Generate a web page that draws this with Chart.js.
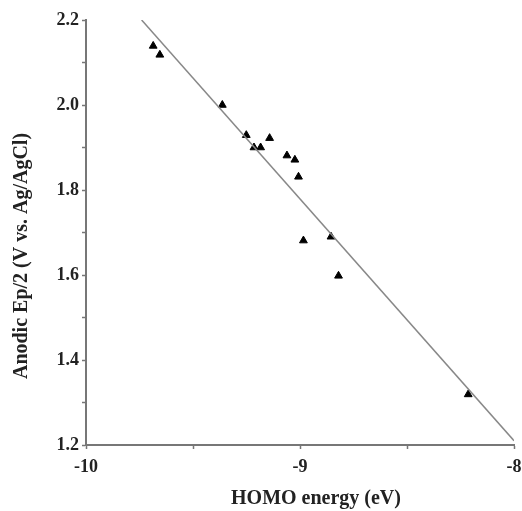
<!DOCTYPE html>
<html>
<head>
<meta charset="utf-8">
<script src="https://cdn.jsdelivr.net/npm/chart.js@4/dist/chart.umd.min.js"></script>
<style>
  html, body { margin: 0; padding: 0; background: #fff; }
  #chart { display: block; }
</style>
</head>
<body>
<canvas id="chart" width="522" height="511"></canvas>
<script>
var homoEnergy = [-9.686, -9.655, -9.363, -9.251, -9.215, -9.184, -9.142, -9.061, -9.024, -9.007, -8.984, -8.855, -8.820, -8.214];
var anodicEp2  = [2.139, 2.118, 2.000, 1.929, 1.900, 1.900, 1.922, 1.881, 1.871, 1.831, 1.681, 1.690, 1.598, 1.319];

// fitted trend line end points
var fitX = [-9.74, -8.0];
var fitY = [2.20, 1.21];

var xTitle = "HOMO energy (eV)";
var yTitle = "Anodic Ep/2 (V vs. Ag/AgCl)";

var axisGray = "#777";
var textColor = "#222";
var serif = "'Liberation Serif', 'DejaVu Serif', serif";

// draws axis titles where the original has them
var titlesPlugin = {
  id: 'titles',
  afterDraw: function(chart) {
    var ctx = chart.ctx;
    ctx.save();
    ctx.fillStyle = textColor;
    ctx.font = "bold 20px " + serif;
    ctx.textAlign = "center";
    ctx.textBaseline = "middle";
    ctx.fillText(xTitle, 316, 499);
    ctx.translate(22, 256);
    ctx.rotate(-Math.PI / 2);
    ctx.fillText(yTitle, 0, 0);
    ctx.restore();
  }
};

function pts(xs, ys) {
  return xs.map(function(x, i) { return { x: x, y: ys[i] }; });
}

new Chart(document.getElementById("chart"), {
  type: 'scatter',
  data: {
    datasets: [{
      label: "fit",
      type: 'line',
      data: pts(fitX, fitY),
      borderColor: "#888",
      borderWidth: 1.5,
      pointRadius: 0,
      fill: false
    }, {
      label: "compounds",
      data: pts(homoEnergy, anodicEp2),
      pointStyle: 'triangle',
      pointRadius: 4.5,
      backgroundColor: "#000",
      borderColor: "#000",
      borderWidth: 1
    }]
  },
  options: {
    responsive: false,
    animation: false,
    layout: { padding: { top: 20, right: 8, left: 0, bottom: 0 } },
    plugins: {
      legend: { display: false },
      tooltip: { enabled: false }
    },
    scales: {
      x: {
        type: 'linear',
        min: -10, max: -8,
        border: { color: axisGray, width: 2 },
        grid: { drawOnChartArea: false, drawTicks: true, tickLength: 4, tickColor: axisGray, tickWidth: 1.5 },
        ticks: {
          stepSize: 0.5,
          padding: 8,
          color: textColor,
          font: { family: serif, size: 18, weight: 'bold' },
          maxRotation: 0,
          autoSkip: false,
          callback: function(v) { return Number.isInteger(v) ? String(v) : ''; }
        },
        afterFit: function(s) { s.height = 66; s.paddingLeft = 0; s.paddingRight = 0; }
      },
      y: {
        type: 'linear',
        min: 1.2, max: 2.2,
        border: { color: axisGray, width: 2 },
        grid: { drawOnChartArea: false, drawTicks: true, tickLength: 4, tickColor: axisGray, tickWidth: 1.5 },
        ticks: {
          stepSize: 0.1,
          padding: 3,
          color: textColor,
          font: { family: serif, size: 18, weight: 'bold' },
          autoSkip: false,
          callback: function(v) { return Math.round(v * 10) % 2 === 0 ? v.toFixed(1) : ''; }
        },
        afterFit: function(s) { s.width = 86; s.paddingTop = 0; s.paddingBottom = 0; }
      }
    }
  },
  plugins: [titlesPlugin]
});
</script>
</body>
</html>
